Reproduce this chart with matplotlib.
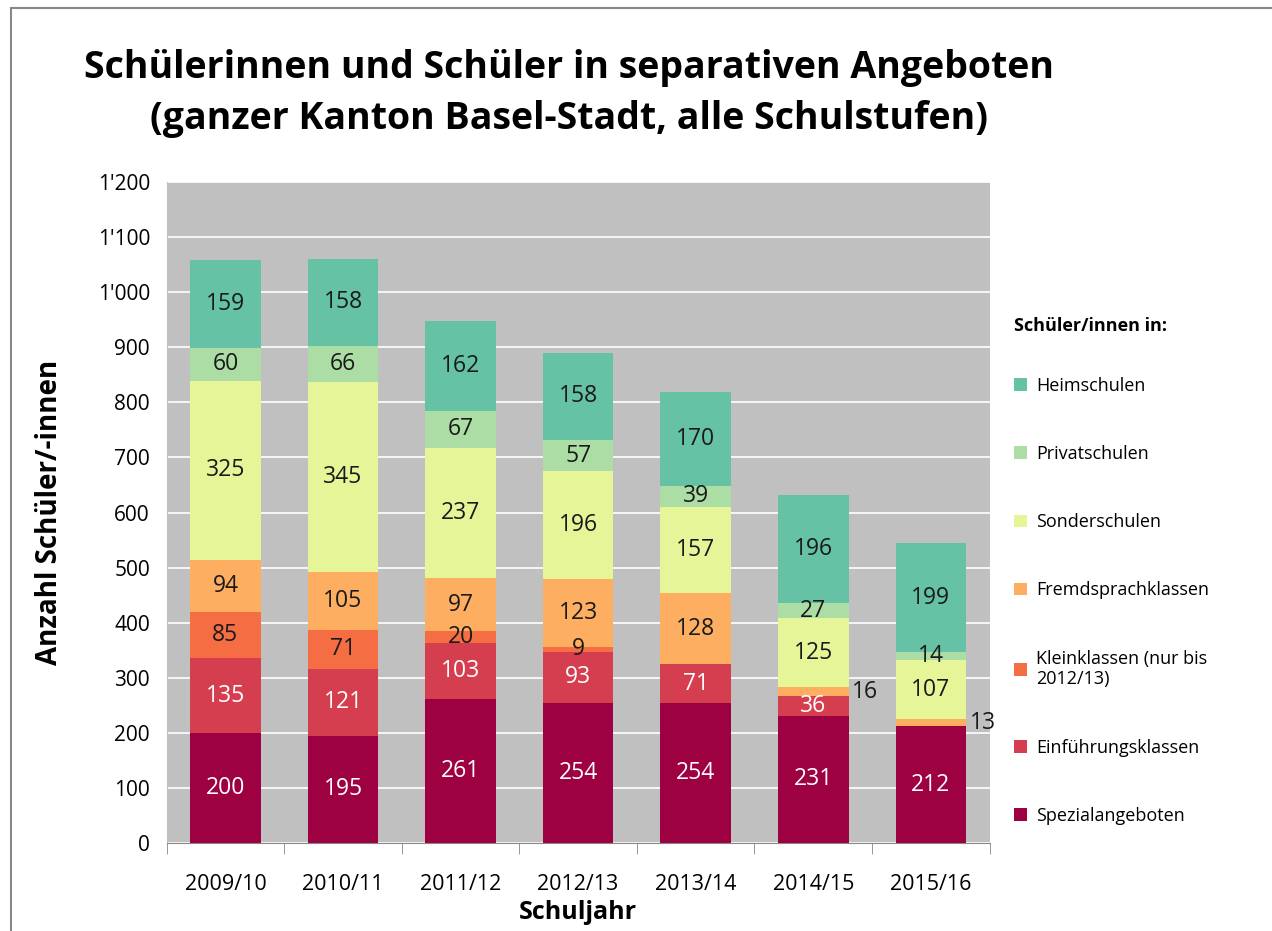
"""
Schülerinnen und Schüler in separativen Angeboten (gestapelte Balken)
"""

import matplotlib.pyplot as plt
import matplotlib.ticker as mticker
from matplotlib.patches import Rectangle
import numpy as np

plt.rcParams['font.family'] = ['Open Sans', 'DejaVu Sans']

jahre = ['2009/10', '2010/11', '2011/12', '2012/13', '2013/14', '2014/15', '2015/16']

# Reihen von unten nach oben
spezial = [200, 195, 261, 254, 254, 231, 212]
einfuehrung = [135, 121, 103, 93, 71, 36, 0]
klein = [85, 71, 20, 9, 0, 0, 0]
fremd = [94, 105, 97, 123, 128, 16, 13]
sonder = [325, 345, 237, 196, 157, 125, 107]
privat = [60, 66, 67, 57, 39, 27, 14]
heim = [159, 158, 162, 158, 170, 196, 199]

serien = [
    ('Spezialangeboten', spezial, '#9E0142', 'white'),
    ('Einführungsklassen', einfuehrung, '#D53E4F', 'white'),
    ('Kleinklassen (nur bis\n2012/13)', klein, '#F46D43', '#1a1a1a'),
    ('Fremdsprachklassen', fremd, '#FDAE61', '#1a1a1a'),
    ('Sonderschulen', sonder, '#E6F598', '#1a1a1a'),
    ('Privatschulen', privat, '#ABDDA4', '#1a1a1a'),
    ('Heimschulen', heim, '#66C2A5', '#1a1a1a'),
]

fig = plt.figure(figsize=(12.72, 9.31), dpi=100)
ax = fig.add_axes([0.131, 0.0945, 0.647, 0.71])
ax.set_facecolor('#C0C0C0')

x = np.arange(len(jahre))
breite = 0.6
unten = np.zeros(len(jahre))
handles = []
for name, werte, farbe, tfarbe in serien:
    werte = np.array(werte)
    b = ax.bar(x, werte, breite, bottom=unten, color=farbe, label=name, zorder=3)
    handles.append(b)
    for i, v in enumerate(werte):
        if v == 0:
            continue
        mitte = unten[i] + v / 2
        if v < 17 and name == 'Fremdsprachklassen':
            ax.text(x[i] + breite / 2 + 0.03, mitte, str(v), ha='left', va='center',
                    fontsize=16.5, color='#1a1a1a', zorder=4)
        else:
            ax.text(x[i], mitte, str(v), ha='center', va='center',
                    fontsize=16.5, color=tfarbe, zorder=4)
    unten += werte

ax.set_ylim(0, 1200)
ax.set_xlim(-0.5, len(jahre) - 0.5)
ax.yaxis.set_major_locator(mticker.MultipleLocator(100))
ax.yaxis.set_major_formatter(mticker.FuncFormatter(
    lambda v, p: f"{int(v):,}".replace(',', "'")))
ax.grid(axis='y', color='white', linewidth=1.2, zorder=0)
ax.set_axisbelow(True)

ax.set_xticks(x)
ax.set_xticklabels(jahre, fontsize=15.5)
ax.set_xticks(np.arange(-0.5, len(jahre)), minor=True)
ax.tick_params(axis='x', which='major', length=0, pad=22)
ax.tick_params(axis='x', which='minor', length=8, color='#888888')
ax.tick_params(axis='y', length=0, labelsize=15, pad=12)
for s in ['top', 'right']:
    ax.spines[s].set_visible(False)
ax.spines['left'].set_color('#C0C0C0')
ax.spines['bottom'].set_color('#888888')

ax.set_ylabel('Anzahl Schüler/-innen', fontsize=20, fontweight='bold', labelpad=24)
ax.set_xlabel('Schuljahr', fontsize=18, fontweight='bold', labelpad=4)

fig.text(0.447, 0.90, 'Schülerinnen und Schüler in separativen Angeboten\n(ganzer Kanton Basel-Stadt, alle Schulstufen)',
         ha='center', va='center', fontsize=27, fontweight='bold', linespacing=1.45)

leg = ax.legend(handles=handles[::-1], loc='upper left', bbox_to_anchor=(1.01, 0.82),
                frameon=False, fontsize=13, labelspacing=2.78, handlelength=0.7,
                handleheight=0.7, handletextpad=0.5, title='Schüler/innen in:',
                title_fontproperties={'weight': 'bold', 'size': 13})
leg._legend_box.align = 'left'
leg._legend_box.sep = 30

fig.patches.append(Rectangle((0.009, -0.01), 1.2, 1.001, transform=fig.transFigure,
                             fill=False, edgecolor='#888888', linewidth=1.5))

fig.savefig('out.png', dpi=100)
